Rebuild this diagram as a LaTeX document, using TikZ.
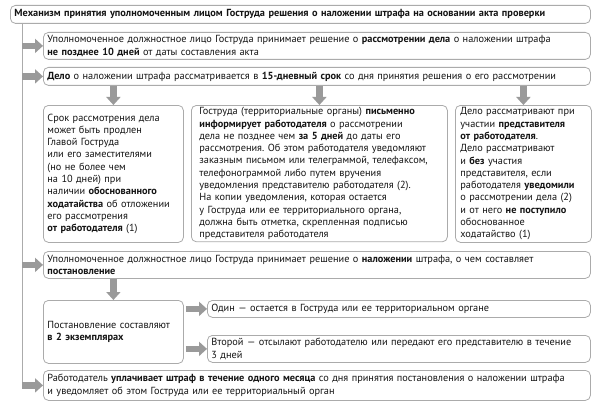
\documentclass[tikz,border=0pt]{standalone}
\usepackage{fontspec}
\setmainfont{PT Sans}
\usetikzlibrary{arrows.meta}
\definecolor{boxline}{HTML}{ABABAB}
\definecolor{arrowgray}{HTML}{9A9A9A}
\definecolor{txt}{HTML}{141414}
\frenchspacing

\begin{document}
\begin{tikzpicture}[x=1pt,y=-1pt,
  box/.style={draw=boxline, line width=0.8pt, rounded corners=5pt, anchor=north west,
    inner xsep=4pt, inner ysep=2pt, align=left, text=txt, font=\fontsize{10.3}{12.3}\selectfont},
  garrow/.style={draw=arrowgray, line width=6.5pt, -{Triangle[length=8pt,width=14pt]}},
  spine/.style={draw=boxline, line width=0.8pt}]
\useasboundingbox (0,0) rectangle (600,404);

\node[box, text width=572pt, minimum height=18pt, font=\fontsize{10.3}{12.3}\selectfont\bfseries] (title) at (10,5)
  {Механизм принятия уполномоченным лицом Гоструда решения о наложении штрафа на основании акта проверки};

\node[box, text width=539pt, minimum height=27pt] (b1) at (43,32)
  {Уполномоченное должностное лицо Гоструда принимает решение о \textbf{рассмотрении дела} о наложении штрафа\\
   \textbf{не позднее 10 дней} от даты составления акта};
\node[box, text width=539pt, minimum height=18pt] (b2) at (43,67)
  {\textbf{Дело} о наложении штрафа рассматривается в \textbf{15-дневный срок} со дня принятия решения о его рассмотрении};

\node[box, text width=132pt, minimum height=137pt] (c1) at (43,105)
  {Срок рассмотрения дела\\
   может быть продлен\\
   Главой Гоструда\\
   или его заместителями\\
   (но не более чем\\
   на 10 дней) при\\
   наличии \textbf{обоснованного}\\
   \textbf{ходатайства} об отложении\\
   его рассмотрения\\
   \textbf{от работодателя} (1)};
\node[box, text width=240pt, inner xsep=8pt, minimum height=132pt] (c2) at (191,105)
  {Гоструда (территориальные органы) \textbf{письменно}\\
   \textbf{информирует работодателя} о рассмотрении\\
   дела не позднее чем \textbf{за 5 дней} до даты его\\
   рассмотрения. Об этом работодателя уведомляют\\
   заказным письмом или телеграммой, телефаксом,\\
   телефонограммой либо путем вручения\\
   уведомления представителю работодателя (2).\\
   На копии уведомления, которая остается\\
   у Гоструда или ее территориального органа,\\
   должна быть отметка, скрепленная подписью\\
   представителя работодателя};
\node[box, text width=126pt, inner xsep=5pt, minimum height=137pt] (c3) at (455,105)
  {Дело рассматривают при\\
   участии \textbf{представителя}\\
   \textbf{от работодателя}.\\
   Дело рассматривают\\
   и \textbf{без} участия\\
   представителя, если\\
   работодателя \textbf{уведомили}\\
   о рассмотрении дела (2)\\
   и от него \textbf{не поступило}\\
   обоснованное\\
   ходатайство (1)};

\node[box, text width=539pt, minimum height=27pt] (b4) at (43,251)
  {Уполномоченное должностное лицо Гоструда принимает решение о \textbf{наложении} штрафа, о чем составляет\\
   \textbf{постановление}};

\node[box, text width=132pt, minimum height=63pt] (d1) at (43,300)
  {Постановление составляют\\
   \textbf{в 2 экземплярах}};
\node[box, text width=375pt, minimum height=17pt] (d2) at (207,300)
  {Один — остается в Гоструда или ее территориальном органе};
\node[box, text width=375pt, minimum height=27pt] (d3) at (207,335)
  {Второй — отсылают работодателю или передают его представителю в течение\\
   3 дней};

\node[box, text width=539pt, minimum height=30pt] (b6) at (43,370)
  {Работодатель \textbf{уплачивает штраф в течение одного месяца} со дня принятия постановления о наложении штрафа\\
   и уведомляет об этом Гоструда или ее территориальный орган};

\coordinate (sp) at (22,23);
\coordinate (spend) at (22,385);
\draw[spine] (sp) -- (spend);

\draw[garrow] (sp |- b1.west) -- (b1.west);
\draw[garrow] (sp |- b2.west) -- (b2.west);
\draw[garrow] (sp |- b4.west) -- (b4.west);
\draw[garrow] (sp |- b6.west) -- (b6.west);

\draw[garrow] (b2.south -| c1.north) -- (c1.north);
\draw[garrow] (b2.south -| c2.north) -- (c2.north);
\draw[garrow] (b2.south -| c3.north) -- (c3.north);
\draw[garrow] (b4.south -| d1.north) -- (d1.north);

\draw[garrow, shorten <=2pt] (d1.east |- d2.west) -- (d2.west);
\draw[garrow, shorten <=2pt] (d1.east |- d3.west) -- (d3.west);
\end{tikzpicture}
\end{document}
